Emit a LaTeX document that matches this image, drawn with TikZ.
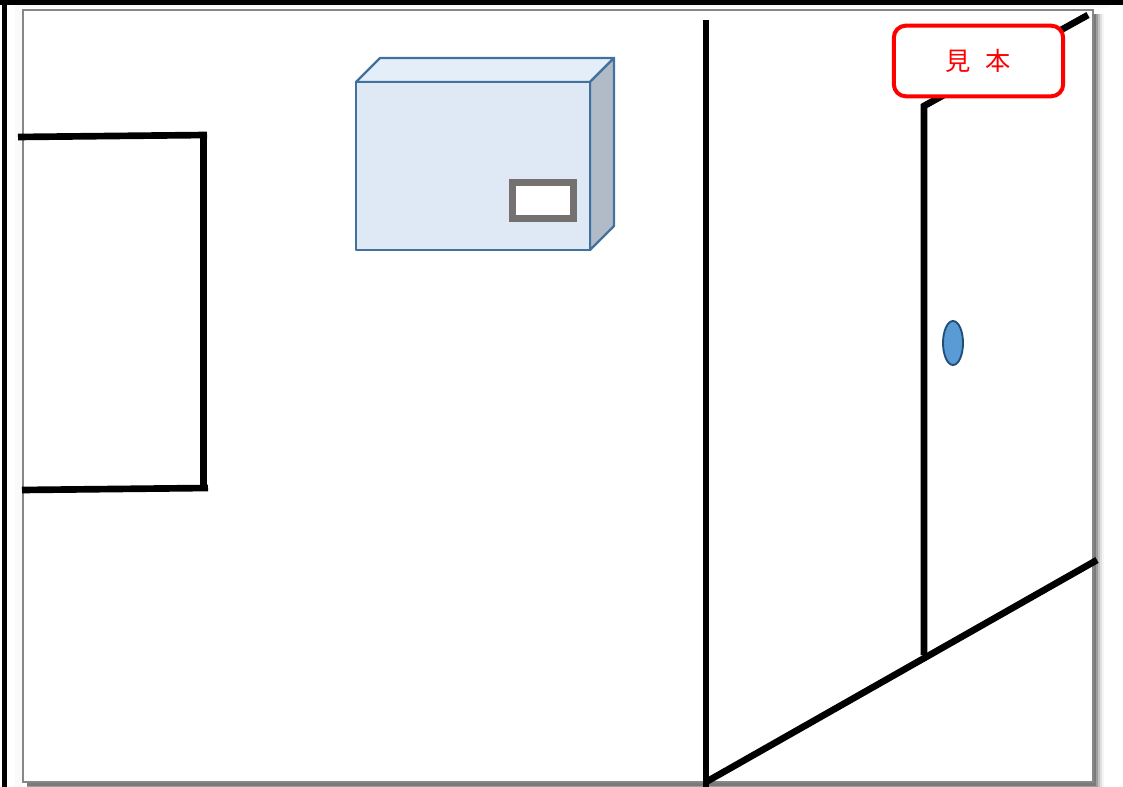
\documentclass[tikz,border=0pt]{standalone}
\usepackage{fontspec}
\newfontfamily\cjk{Noto Sans CJK JP}
\tikzset{
  wall/.style={draw=black,line width=5pt,line cap=butt,line join=miter},
  boxface/.style={draw=boxedge,line width=1.7pt,line join=round}
}
\definecolor{boxedge}{HTML}{41719C}
\definecolor{boxfront}{HTML}{DEE9F5}
\definecolor{boxtop}{HTML}{E4EEF8}
\definecolor{boxside}{HTML}{B0BBC7}
\definecolor{winframe}{HTML}{767171}
\definecolor{knob}{HTML}{5B9BD5}
\definecolor{knobedge}{HTML}{1F4E79}
\begin{document}
\begin{tikzpicture}[x=0.75pt,y=-0.75pt]
\useasboundingbox (0,0) rectangle (1123,787);
\fill[white] (0,0) rectangle (1123,787);
% soft halo and shadow of the sheet
\fill[black!2] (15,5) rectangle (1109,8);
\fill[black!2] (15,5) rectangle (22,787);
\fill[black!4] (27,14) rectangle (1104,787);
\fill[black!12] (27,14) rectangle (1102,787);
\fill[black!24] (27,14) rectangle (1100,787);
\fill[black!38] (27,14) rectangle (1098,787);
\fill[black!52] (27,14) rectangle (1096,786);
% sheet
\draw[draw=black!47,fill=white,line width=1.9pt] (23,10) rectangle (1093,782);
% outer page edges
\fill[black] (0,0) rectangle (1123,5);
\fill[black] (2,0) rectangle (7,787);
% left window
\draw[wall] (18,137) -- (207,135);
\draw[wall] (203.5,133) -- (203.5,491);
\draw[wall] (22,490) -- (208,488);
% corner and floor
\draw[wall] (706,20) -- (706,787);
\draw[wall] (706,782) -- (1097,560);
% door
\draw[wall] (1088,15) -- (924,106) -- (924,655);
\draw[draw=knobedge,fill=knob,line width=1.4pt] (953,343) ellipse [x radius=10,y radius=22];
% box
\draw[boxface,fill=boxtop] (356,82) -- (380,58) -- (614,58) -- (590,82) -- cycle;
\draw[boxface,fill=boxside] (590,82) -- (614,58) -- (614,226) -- (590,250) -- cycle;
\draw[boxface,fill=boxfront] (356,82) rectangle (590,250);
\draw[draw=winframe,fill=white,line width=5.2pt] (512.5,182.5) rectangle (573.5,218.5);
% sample label
\node[draw=red,fill=white,line width=3pt,rounded corners=9pt,minimum width=127pt,minimum height=53pt,inner sep=0pt,text=red,font=\cjk\fontsize{19pt}{20pt}\selectfont] (sample) at (978.5,61) {見\hspace{11pt}本};
\end{tikzpicture}
\end{document}
